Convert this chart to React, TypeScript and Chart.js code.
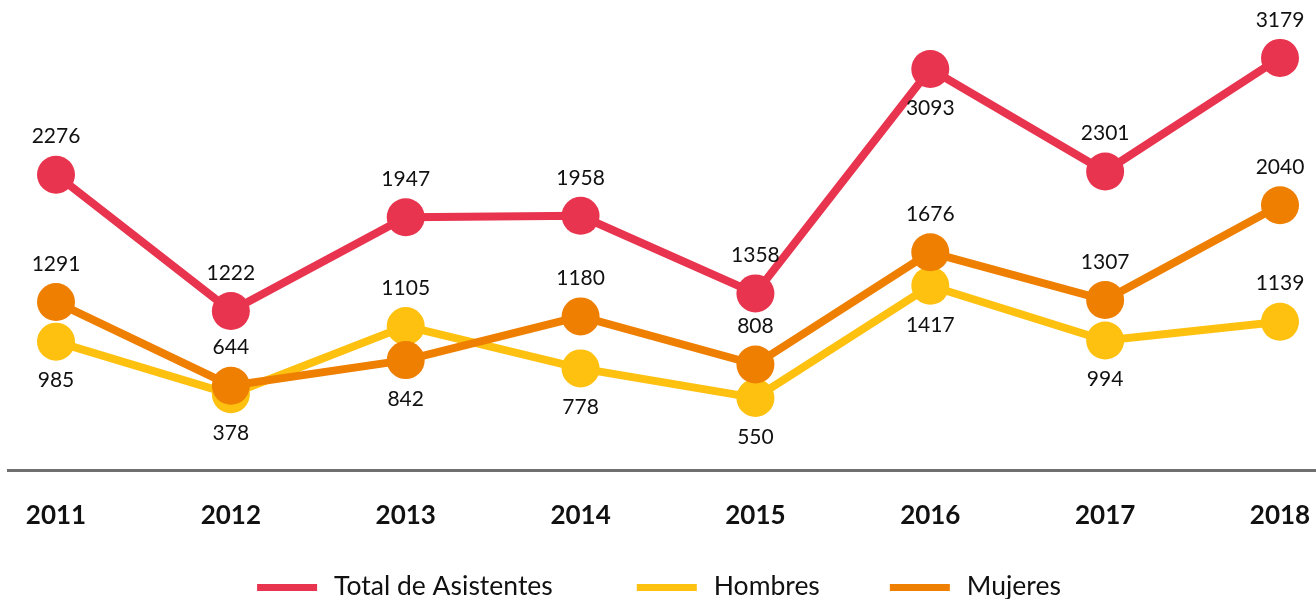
import React, { useEffect, useRef } from "react";
import { Chart, registerables } from "chart.js";

Chart.register(...registerables);

const years = ["2011", "2012", "2013", "2014", "2015", "2016", "2017", "2018"];
const totalValues = [2276, 1222, 1947, 1958, 1358, 3093, 2301, 3179];
const hombresValues = [985, 578, 1105, 778, 550, 1417, 994, 1139];
const hombresLabels = ["985", "378", "1105", "778", "550", "1417", "994", "1139"];
const mujeresValues = [1291, 644, 842, 1180, 808, 1676, 1307, 2040];
const totalLabelPos = ["top", "top", "top", "top", "top", "bottom", "top", "top"];
const hombresLabelPos = ["bottom", "bottom", "top", "bottom", "bottom", "bottom", "bottom", "top"];
const mujeresLabelPos = ["top", "top", "bottom", "top", "top", "top", "top", "top"];

const RED = "#E8344E";
const YELLOW = "#FEC10F";
const ORANGE = "#EF7F00";

export default function App() {
  const ref = useRef<HTMLCanvasElement | null>(null);

  useEffect(() => {
    if (!ref.current) return;

    const baseline = {
      id: "baseline",
      beforeDatasetsDraw(chart: any) {
        const ctx = chart.ctx;
        const y = chart.scales.y.getPixelForValue(0) + 1.5;
        ctx.save();
        ctx.strokeStyle = "#707070";
        ctx.lineWidth = 3;
        ctx.beginPath();
        ctx.moveTo(7, y);
        ctx.lineTo(chart.width, y);
        ctx.stroke();
        ctx.restore();
      },
    };

    const dataLabels = {
      id: "dataLabels",
      afterDatasetsDraw(chart: any) {
        const ctx = chart.ctx;
        ctx.save();
        ctx.font = "21px Lato";
        ctx.fillStyle = "#111111";
        ctx.textAlign = "center";
        ctx.textBaseline = "middle";
        chart.data.datasets.forEach((ds: any, i: number) => {
          const meta = chart.getDatasetMeta(i);
          meta.data.forEach((pt: any, j: number) => {
            const pos = ds.labelPos[j];
            const dy = pos === "top" ? -38 : 39;
            const text = ds.labelTexts ? ds.labelTexts[j] : String(ds.data[j]);
            ctx.fillText(text, pt.x, pt.y + dy);
          });
        });
        ctx.restore();
      },
    };

    const customLegend = {
      id: "customLegend",
      afterDraw(chart: any) {
        const ctx = chart.ctx;
        ctx.save();
        ctx.font = "26.5px Lato";
        const gaps = [84, 70];
        const items = chart.data.datasets.map((ds: any) => ({
          text: ds.label,
          color: ds.borderColor,
          w: 60 + 17 + ctx.measureText(ds.label).width,
        }));
        const total =
          items.reduce((s: number, it: any) => s + it.w, 0) + gaps.reduce((s, g) => s + g, 0);
        let x = 659 - total / 2;
        ctx.textBaseline = "middle";
        ctx.textAlign = "left";
        items.forEach((it: any, i: number) => {
          ctx.fillStyle = it.color;
          ctx.fillRect(x, 584, 60, 7);
          ctx.fillStyle = "#111111";
          ctx.fillText(it.text, x + 77, 586);
          x += it.w + (gaps[i] || 0);
        });
        ctx.restore();
      },
    };

    const common = {
      borderWidth: 8,
      pointRadius: 19,
      pointHoverRadius: 19,
      pointBorderWidth: 0,
      tension: 0,
      clip: false,
    };

    const chart = new Chart(ref.current, {
      type: "line",
      data: {
        labels: years,
        datasets: [
          {
            ...common,
            label: "Total de Asistentes",
            data: totalValues,
            borderColor: RED,
            backgroundColor: RED,
            pointBackgroundColor: RED,
            order: 0,
            labelPos: totalLabelPos,
          } as any,
          {
            ...common,
            label: "Hombres",
            data: hombresValues,
            borderColor: YELLOW,
            backgroundColor: YELLOW,
            pointBackgroundColor: YELLOW,
            order: 2,
            labelPos: hombresLabelPos,
            labelTexts: hombresLabels,
          } as any,
          {
            ...common,
            label: "Mujeres",
            data: mujeresValues,
            borderColor: ORANGE,
            backgroundColor: ORANGE,
            pointBackgroundColor: ORANGE,
            order: 1,
            labelPos: mujeresLabelPos,
          } as any,
        ],
      },
      options: {
        responsive: false,
        animation: false,
        events: [],
        layout: { padding: { left: 56, right: 36, top: 9, bottom: 0 } },
        plugins: {
          legend: { display: false },
          tooltip: { enabled: false },
        },
        scales: {
          x: {
            offset: false,
            grid: { display: false, drawTicks: false },
            border: { display: false },
            ticks: {
              color: "#111111",
              font: { family: "Lato", size: 26, weight: "bold" },
              padding: 31,
              maxRotation: 0,
              autoSkip: false,
            },
            afterFit: (s: any) => {
              s.height = 130;
              s.paddingLeft = 0;
              s.paddingRight = 0;
            },
          },
          y: {
            display: false,
            min: 0,
            max: 3480,
          },
        },
      },
      plugins: [baseline, dataLabels, customLegend],
    } as any);

    return () => chart.destroy();
  }, []);

  return (
    <div style={{ position: "absolute", left: 0, top: 0, width: 1316, height: 599, background: "#fff" }}>
      <canvas ref={ref} width={1316} height={599} />
    </div>
  );
}
